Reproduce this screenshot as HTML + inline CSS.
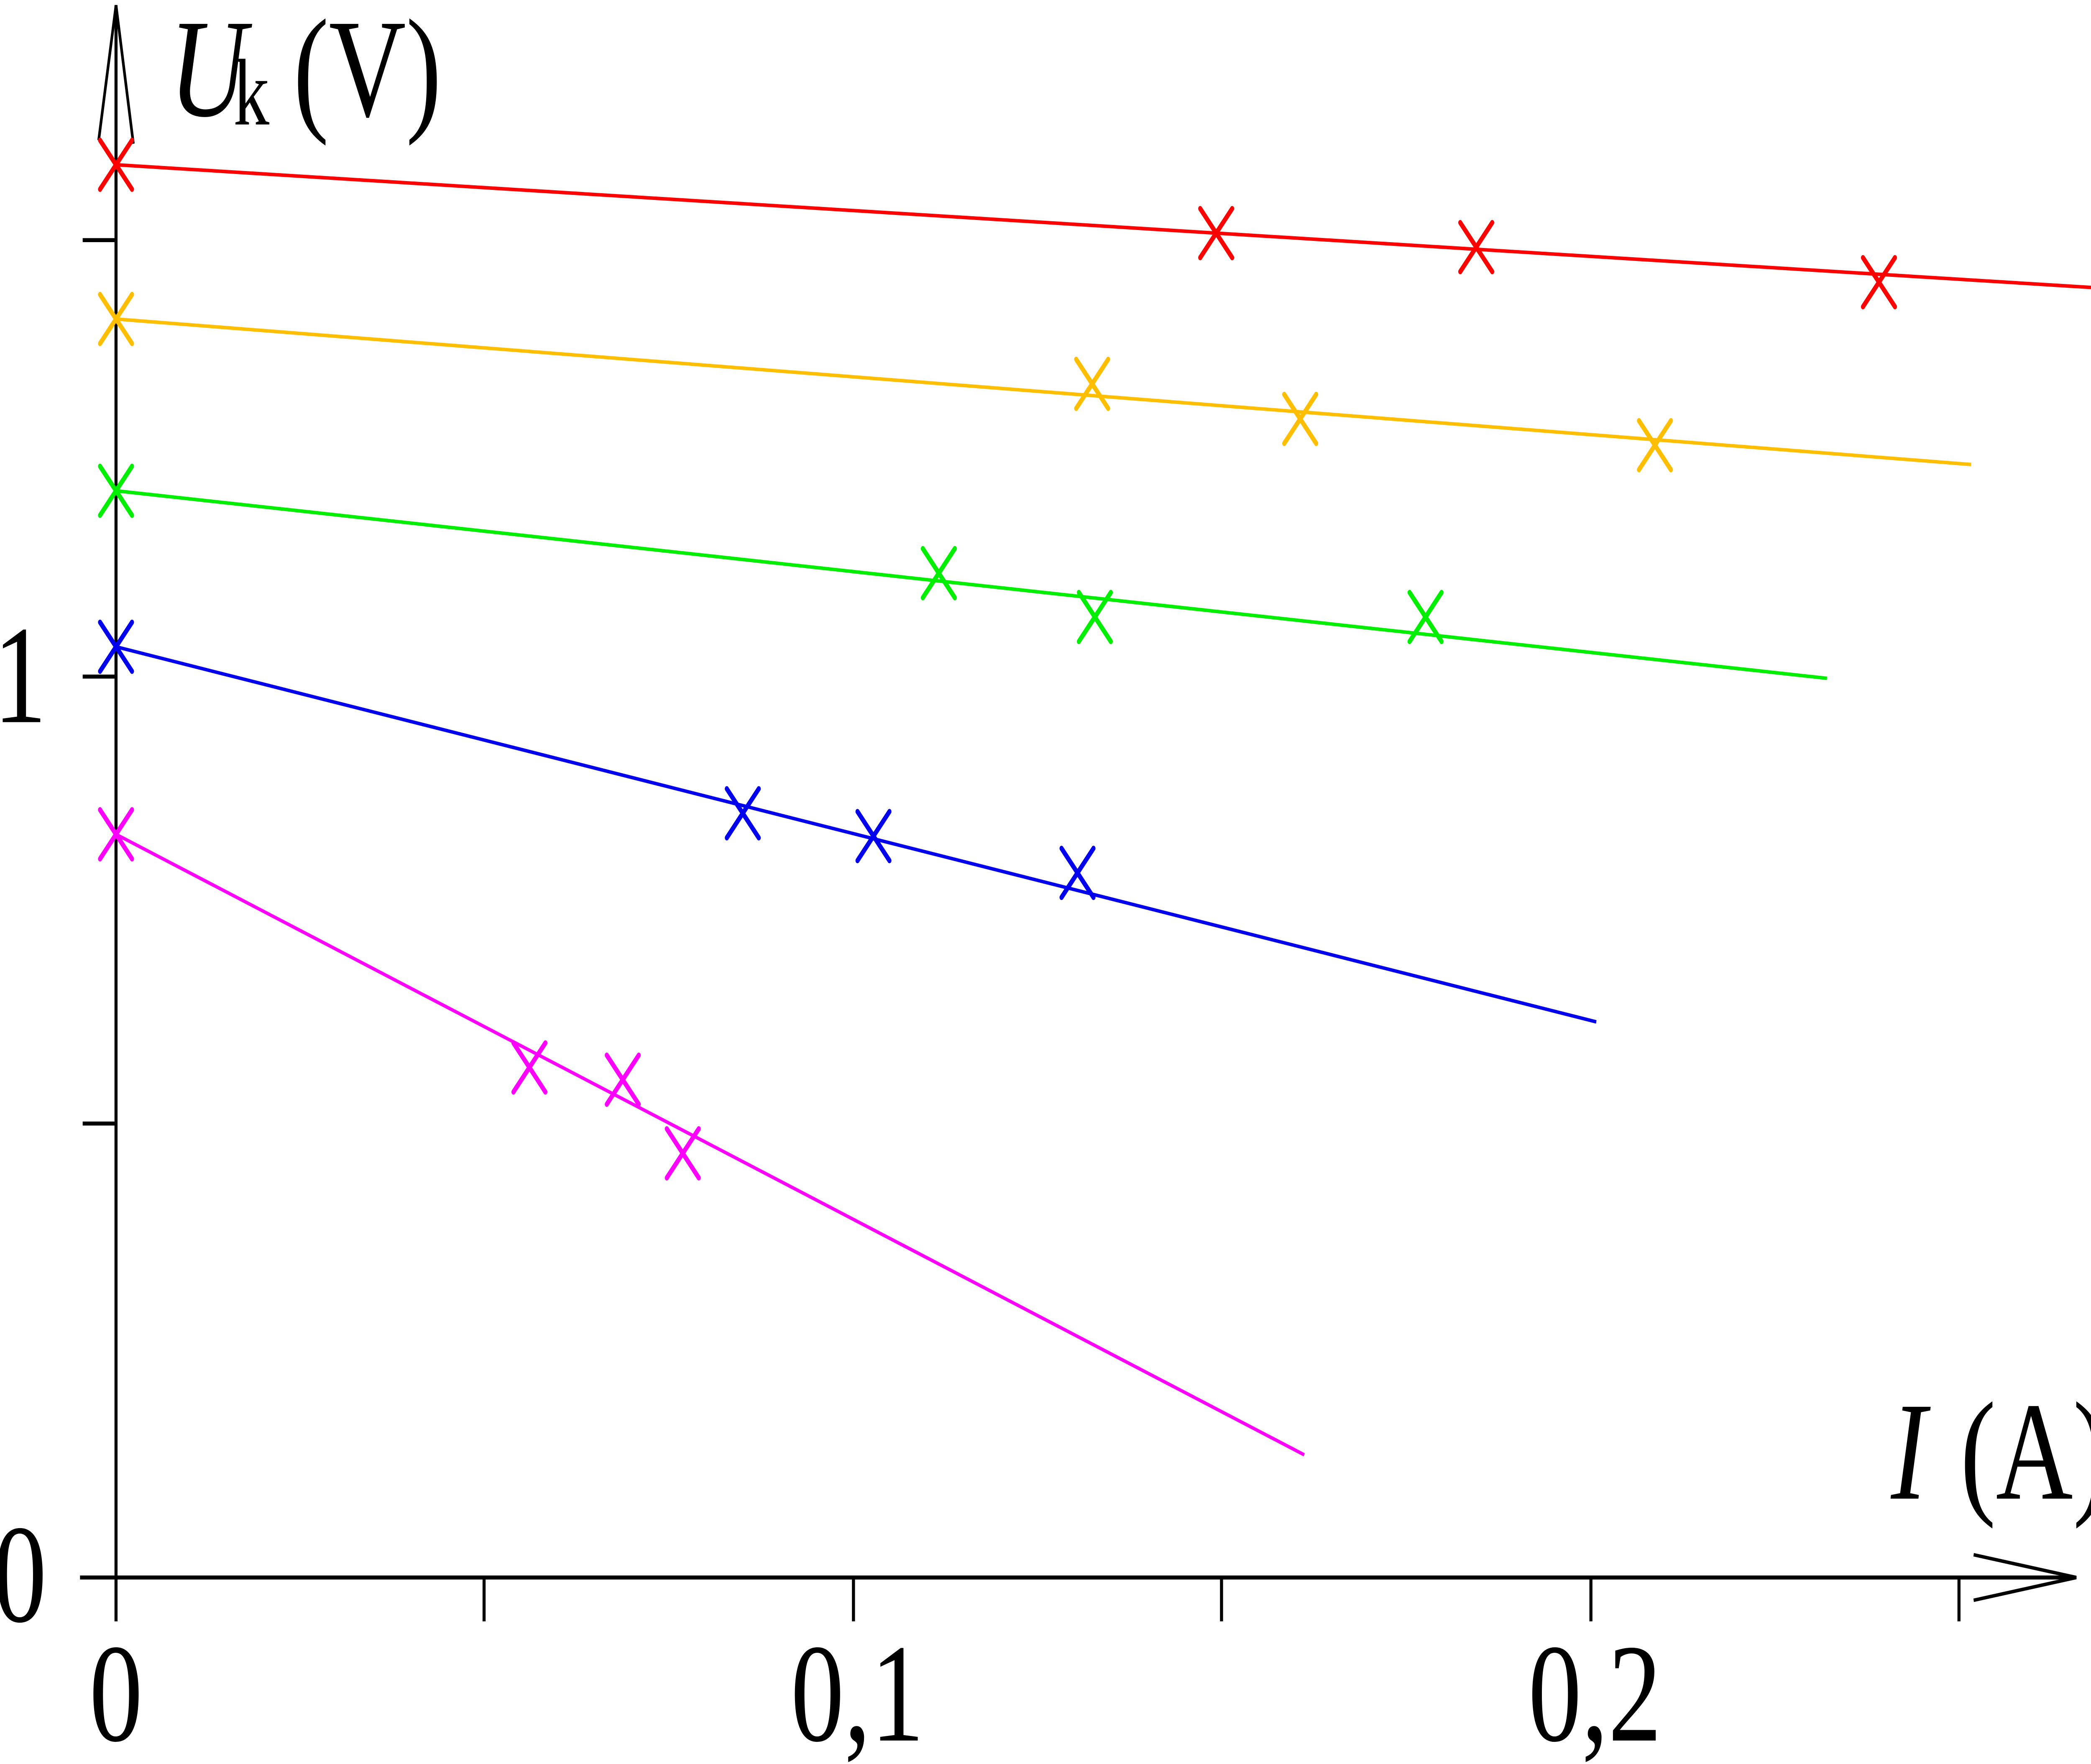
<!DOCTYPE html>
<html><head><meta charset="utf-8"><style>html,body{margin:0;padding:0;background:#fff;overflow:hidden;width:100%;height:100%}svg{display:block;position:fixed;left:0;top:0;width:100vw;height:100vh}</style></head>
<body>
<svg viewBox="0 0 1568 1006.4" preserveAspectRatio="none" xmlns="http://www.w3.org/2000/svg">
<g stroke="#000" stroke-width="2.3" fill="none">
<line x1="87" y1="3" x2="87" y2="900"/>
<path d="M74,80 L87,3 L100,82" stroke-width="2"/>
<line x1="60" y1="900" x2="1555" y2="900"/>
<path d="M1480,887 L1557,900 L1480,913" stroke-width="2"/>
<line x1="62" y1="137" x2="87" y2="137"/>
<line x1="62" y1="386" x2="87" y2="386"/>
<line x1="62" y1="641" x2="87" y2="641"/>
<line x1="87" y1="900" x2="87" y2="925"/>
<line x1="363" y1="900" x2="363" y2="925"/>
<line x1="640" y1="900" x2="640" y2="925"/>
<line x1="916" y1="900" x2="916" y2="925"/>
<line x1="1193" y1="900" x2="1193" y2="925"/>
<line x1="1469" y1="900" x2="1469" y2="925"/>
</g>
<g font-family="Liberation Serif, serif" font-size="80" fill="#000">
<text x="15" y="412" text-anchor="middle">1</text>
<text x="15" y="925" text-anchor="middle">0</text>
<text x="87" y="993" text-anchor="middle">0</text>
<text x="643" y="993" text-anchor="middle">0,1</text>
<text x="1196" y="993" text-anchor="middle">0,2</text>
<text x="127" y="66" font-style="italic">U</text>
<text x="175" y="71" font-size="54">k</text>
<text x="220" y="66">(V)</text>
<text x="1418" y="855" font-style="italic">I</text>
<text x="1470" y="855">(A)</text>
</g>
<g stroke-width="2">
<line x1="87" y1="94" x2="1568" y2="164" stroke="#ff0000"/>
<line x1="87" y1="182" x2="1478" y2="265" stroke="#ffbf00"/>
<line x1="87" y1="280" x2="1370" y2="387" stroke="#00ee00"/>
<line x1="87" y1="369" x2="1197" y2="583" stroke="#0000ee"/>
<line x1="87" y1="476" x2="978" y2="830" stroke="#ff00ff"/>
</g>
<g stroke-width="3" stroke-linecap="round" fill="none">
<path stroke="#ff0000" d="M75,80 l24,28 m-24,0 l24,-28 M900,119 l24,28 m-24,0 l24,-28 M1095,127 l24,28 m-24,0 l24,-28 M1397,147 l24,28 m-24,0 l24,-28"/>
<path stroke="#ffbf00" d="M75,168 l24,28 m-24,0 l24,-28 M807,205 l24,28 m-24,0 l24,-28 M963,225 l24,28 m-24,0 l24,-28 M1229,240 l24,28 m-24,0 l24,-28"/>
<path stroke="#00ee00" d="M75,266 l24,28 m-24,0 l24,-28 M692,313 l24,28 m-24,0 l24,-28 M809,338 l24,28 m-24,0 l24,-28 M1057,338 l24,28 m-24,0 l24,-28"/>
<path stroke="#0000ee" d="M75,355 l24,28 m-24,0 l24,-28 M545,450 l24,28 m-24,0 l24,-28 M643,463 l24,28 m-24,0 l24,-28 M796,484 l24,28 m-24,0 l24,-28"/>
<path stroke="#ff00ff" d="M75,462 l24,28 m-24,0 l24,-28 M385,595 l24,28 m-24,0 l24,-28 M455,602 l24,28 m-24,0 l24,-28 M500,644 l24,28 m-24,0 l24,-28"/>
</g>
</svg>
</body></html>
